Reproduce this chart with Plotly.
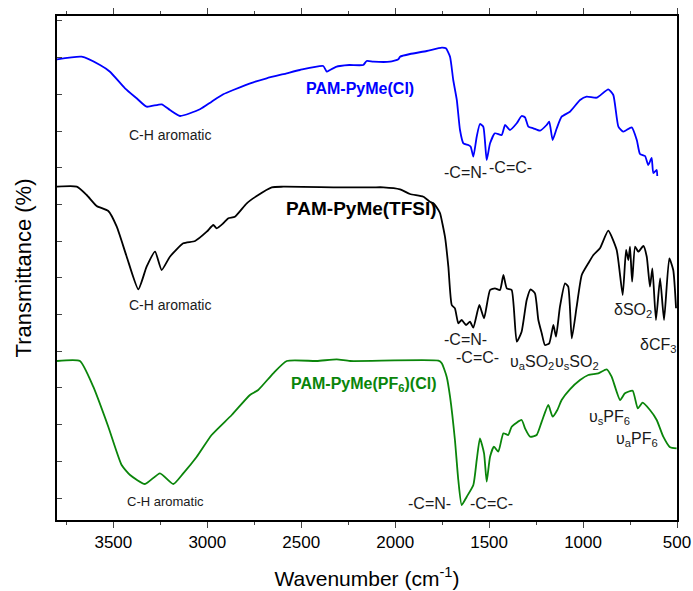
import plotly.graph_objects as go

# ---------------- data (wavenumber cm-1, transmittance in offset arbitrary units) ----------------
cl_wn = [3800, 3669, 3571, 3518, 3438, 3376, 3323, 3243, 3199, 3145, 3039, 2977, 2915, 2862, 2755,
         2684, 2577, 2507, 2383, 2364, 2347, 2311, 2294, 2244, 2170, 2152, 2116, 2028, 1983, 1974,
         1921, 1832, 1752, 1730, 1708, 1691, 1672, 1655, 1637, 1611, 1598, 1584, 1566, 1549, 1531,
         1513, 1495, 1469, 1433, 1415, 1389, 1353, 1327, 1309, 1291, 1265, 1229, 1194, 1180, 1162,
         1140, 1114, 1070, 1016, 981, 927, 866, 839, 812, 786, 741, 714, 697, 670, 653, 635, 626, 608, 605]
cl_t = [460.7, 463.3, 455, 448.3, 431.7, 421.7, 413.3, 415.7, 410, 404, 410.7, 418.3, 425.7, 430, 437.7,
        441.7, 446.7, 450, 454, 448.3, 450, 453.3, 454, 455, 455, 459, 458.3, 458.3, 460.7, 463.3,
        466, 469, 472.3, 471.7, 463.3, 440, 420, 390, 376.7, 375, 373.3, 363.3, 383.3, 396, 393.3,
        360, 376.7, 386.7, 385, 395, 390, 396.7, 404, 402.7, 393.3, 391.7, 389.3, 395, 398.3, 380,
        391.7, 403.3, 408.3, 420, 423.3, 422.3, 430.7, 425, 393.3, 388.3, 392.7, 380, 366, 364, 355, 362, 347, 350, 344]

tfsi_wn = [3800, 3695, 3642, 3589, 3527, 3482, 3429, 3367, 3323, 3278, 3243, 3199, 3128, 3065, 3003,
           2968, 2950, 2915, 2888, 2853, 2790, 2737, 2657, 2596, 2294, 2116, 2063, 1974, 1921, 1850,
           1815, 1797, 1770, 1761, 1735, 1717, 1699, 1682, 1664, 1646, 1623, 1602, 1584, 1552, 1527,
           1495, 1469, 1442, 1424, 1406, 1380, 1353, 1327, 1300, 1279, 1256, 1238, 1220, 1203, 1180,
           1158, 1144, 1123, 1096, 1079, 1060, 1034, 1007, 972, 945, 910, 866, 821, 789, 771, 759,
           750, 739, 723, 706, 679, 661, 644, 631, 612, 590, 569, 541, 520, 505]
tfsi_t = [333.3, 333.3, 325, 314, 309, 293.3, 263.3, 230.7, 253.3, 268.3, 250, 263.3, 276.7, 279, 288.3,
          295, 291.7, 296.7, 301.7, 303.3, 316.7, 324, 332.7, 333.3, 332.7, 332.7, 332.7, 330.7, 326, 323.3,
          318.3, 316.7, 310, 306.7, 283.3, 253.3, 215, 211.7, 196.7, 200, 195, 198.3, 192.3, 215, 201.7,
          230, 231.7, 230, 245, 231.7, 230, 178.3, 188.3, 220, 230.7, 226.7, 200, 186.7, 175, 176.7,
          195, 183.3, 213.3, 236.7, 233.3, 181.7, 213.3, 245, 256.7, 265, 271.7, 289.3, 270, 225, 270, 260,
          273.3, 238.3, 273.3, 268.3, 274, 263.3, 233.3, 251.7, 200, 241.7, 200, 261.7, 250, 211.7]

pf6_wn = [3800, 3678, 3607, 3527, 3456, 3411, 3332, 3252, 3181, 3128, 3056, 2977, 2870, 2773, 2729,
          2649, 2577, 2418, 2311, 2240, 1770, 1752, 1726, 1708, 1682, 1664, 1646, 1619, 1584, 1566,
          1549, 1527, 1513, 1495, 1474, 1451, 1424, 1398, 1380, 1327, 1309, 1282, 1247, 1220, 1185,
          1162, 1137, 1114, 1070, 1016, 972, 919, 874, 848, 803, 777, 736, 709, 683, 644, 608, 573, 537, 502]
pf6_t = [159, 159, 133.3, 93.3, 55, 45, 36, 46.7, 36, 46.7, 63.3, 85, 105, 125, 130,
         146.7, 159, 159, 160.7, 159, 159.3, 156.7, 143.3, 123.3, 80, 40, 15, 23.3, 35, 60,
         81.7, 66.7, 38.3, 63.3, 73.3, 68.3, 86.7, 85, 93.3, 100, 91.7, 83.3, 85, 98.3, 115,
         103.3, 110, 120, 130.7, 140, 145, 146.7, 150.7, 143.3, 120, 126.7, 129.3, 111.7, 117.3, 110, 100, 83.3, 72.7, 71.7]

x_ticks = [3500, 3000, 2500, 2000, 1500, 1000, 500]

FONT = "Arial, Liberation Sans, sans-serif"
TXT = "#1a1a1a"

fig = go.Figure()
fig.add_trace(go.Scatter(x=cl_wn, y=cl_t, mode="lines", line=dict(color="#0000ff", width=1.8, shape="spline", smoothing=0.5), showlegend=False))
fig.add_trace(go.Scatter(x=tfsi_wn, y=tfsi_t, mode="lines", line=dict(color="#000000", width=1.8, shape="spline", smoothing=0.5), showlegend=False))
fig.add_trace(go.Scatter(x=pf6_wn, y=pf6_t, mode="lines", line=dict(color="#0a850a", width=1.8, shape="spline", smoothing=0.5), showlegend=False))

def ann(x, y, text, size=16, color=TXT, bold=False, xanchor="center"):
    fig.add_annotation(x=x, y=y, text=("<b>%s</b>" % text) if bold else text, showarrow=False,
                       font=dict(family=FONT, size=size, color=color), xanchor=xanchor, yanchor="middle")

ann(3199, 385, "C-H aromatic", 14)
ann(3199, 215, "C-H aromatic", 14)
ann(3225, 19, "C-H aromatic", 13)
ann(2187, 432, "PAM-PyMe(Cl)", 16, "#0000ff", True)
ann(2178, 312, "PAM-PyMe(TFSI)", 19, "#000000", True)
ann(2171, 136, "PAM-PyMe(PF<sub>6</sub>)(Cl)", 16, "#0a850a", True)
ann(1628, 348, "-C=N-", 16)
ann(1510, 353, "-C=C-", 16, xanchor="left")
ann(1628, 181, "-C=N-", 16)
ann(1560, 163, "-C=C-", 16)
ann(1273, 158, "υ<sub>a</sub>SO<sub>2</sub>", 16)
ann(1030, 158, "υ<sub>s</sub>SO<sub>2</sub>", 16)
ann(733, 210, "δSO<sub>2</sub>", 16)
ann(600, 175, "δCF<sub>3</sub>", 16)
ann(1820, 17, "-C=N-", 16)
ann(1486, 17, "-C=C-", 16)
ann(857, 103, "υ<sub>s</sub>PF<sub>6</sub>", 16)
ann(714, 81, "υ<sub>a</sub>PF<sub>6</sub>", 16)

fig.update_layout(
    width=693, height=591,
    margin=dict(l=57, r=16, t=16, b=71, autoexpand=False),
    paper_bgcolor="white", plot_bgcolor="white",
    font=dict(family=FONT, color="#000000"),
    xaxis=dict(range=[3800, 500], tickvals=x_ticks, ticks="outside", ticklen=6, tickwidth=1.3,
               minor=dict(dtick=250, tick0=500, ticks="outside", ticklen=3, tickwidth=1.3),
               showline=True, linecolor="black", linewidth=1.6, mirror="allticks", showgrid=False, zeroline=False,
               automargin=False,
               tickfont=dict(size=17, family=FONT, color="black"),
               title=dict(text="Wavenumber (cm<sup>-1</sup>)", font=dict(size=21, family=FONT), standoff=20)),
    yaxis=dict(range=[0, 504], tick0=22, dtick=36.7, ticks="inside", ticklen=5, tickwidth=1.3,
               showticklabels=False, showline=True, linecolor="black", linewidth=1.6, mirror=True,
               showgrid=False, zeroline=False, automargin=False,
               title=dict(text="Transmittance (%)", font=dict(size=22, family=FONT), standoff=18)),
    yaxis2=dict(range=[0, 504], tick0=22, dtick=36.7, ticks="outside", ticklen=5, tickwidth=1.3,
                overlaying="y", side="right", showticklabels=False, showline=False, showgrid=False,
                zeroline=False, automargin=False),
)
fig.write_html("out.html", config={"displayModeBar": False},
               post_script="document.body.style.margin='0';document.body.style.overflow='hidden';")
